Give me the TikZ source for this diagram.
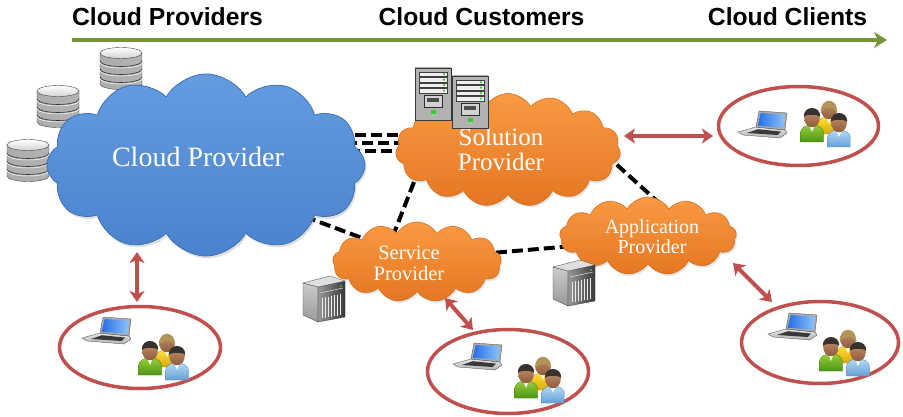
\documentclass[tikz,border=0pt]{standalone}
\usepackage{fontspec}
\setmainfont{Liberation Serif}
\newfontfamily\headfont{Liberation Sans}
\usetikzlibrary{shapes.symbols,shapes.geometric,arrows.meta,shadows}

\definecolor{flowgreen}{RGB}{119,147,60}
\definecolor{provbluetop}{RGB}{100,156,224}
\definecolor{provbluebot}{RGB}{74,130,205}
\definecolor{provblueedge}{RGB}{62,112,182}
\definecolor{custorangetop}{RGB}{250,154,66}
\definecolor{custorangebot}{RGB}{228,118,34}
\definecolor{custorangeedge}{RGB}{214,112,34}
\definecolor{linkred}{RGB}{192,80,77}
\definecolor{skin}{RGB}{200,146,104}
\definecolor{skindark}{RGB}{140,92,62}
\definecolor{hairdark}{RGB}{55,50,45}
\definecolor{hairblond}{RGB}{178,148,88}
\definecolor{shirtgreen}{RGB}{150,205,60}
\definecolor{shirtgreendark}{RGB}{78,150,20}
\definecolor{shirtyellow}{RGB}{255,225,60}
\definecolor{shirtyellowdark}{RGB}{215,168,10}
\definecolor{shirtblue}{RGB}{180,218,245}
\definecolor{shirtbluedark}{RGB}{100,160,215}
\definecolor{screenblue}{RGB}{40,110,230}
\definecolor{screenlight}{RGB}{140,196,250}
\definecolor{ledgreen}{RGB}{60,200,60}

\tikzset{
  headtext/.style={font=\headfont\bfseries\fontsize{24.7}{28}\selectfont, text=black, inner sep=0pt, anchor=base},
  cloudtext/.style={text=white, inner sep=0pt, align=center},
  providercloud/.style={cloud, cloud puffs=12, cloud puff arc=120, cloud ignores aspect,
    inner sep=0pt, top color=provbluetop, bottom color=provbluebot,
    draw=provblueedge, line width=0.8pt,
    drop shadow={shadow xshift=1.5pt, shadow yshift=-2.5pt, opacity=0.25}},
  customercloud/.style={cloud, cloud puffs=#1, cloud puff arc=120, cloud ignores aspect,
    inner sep=0pt, top color=custorangetop, bottom color=custorangebot,
    draw=custorangeedge, line width=0.6pt,
    drop shadow={shadow xshift=1.5pt, shadow yshift=-2pt, opacity=0.2}},
  peerlink/.style={draw=black, line width=4pt, dash pattern=on 11pt off 5pt},
  clientlink/.style={draw=linkred, line width=4pt,
    {Stealth[length=11pt,width=15pt,inset=3pt]}-{Stealth[length=11pt,width=15pt,inset=3pt]}},
  clientring/.style={ellipse, draw=linkred, line width=3.5pt, fill=white, inner sep=0pt},
  % a person: shirt top colour, shirt bottom colour, hair colour, hair depth
  pics/person/.style n args={4}{code={
    \path[top color=#1, bottom color=#2, draw=#2!80!black, line width=0.3pt]
      (-11.5,24) -- (-11.5,16) .. controls (-11.5,9) and (-6,7) .. (0,7)
      .. controls (6,7) and (11.5,9) .. (11.5,16) -- (11.5,24) -- cycle;
    \fill[white] (-2.6,7.3) -- (0,14) -- (2.6,7.3) -- cycle;
    \path[top color=skin, bottom color=skindark] (0,0) ellipse [x radius=7.8, y radius=9.3];
    \fill[#3] (-8.2,#4) .. controls (-8.9,-13) and (8.9,-13) .. (8.2,#4)
      .. controls (6,-4) and (-6,-4) .. cycle;
  }},
  pics/crowd/.style={code={
    \pic at (3,-10) {person={shirtyellow}{shirtyellowdark}{hairblond}{4}};
    \pic at (-14,-2) {person={shirtgreen}{shirtgreendark}{hairdark}{-1}};
    \pic at (13,3) {person={shirtblue}{shirtbluedark}{hairdark}{-1}};
  }},
  pics/laptop/.style={code={
    \path[top color=gray!20, bottom color=gray!60, draw=gray!55!black, line width=0.3pt]
      (-6,3) -- (23,6) -- (25,9) -- (18,14) -- (-19,11) -- (-24,8) -- cycle;
    \fill[gray!45!black] (-4,5.2) -- (19,7.6) -- (15.5,11) -- (-15,9) -- cycle;
    \path[fill=gray!65, draw=gray!50!black, line width=0.3pt]
      (-3,-13) -- (25,-11) -- (23,6) -- (-6,3) -- cycle;
    \path[left color=screenblue, right color=screenlight]
      (-1.3,-11) -- (23,-9.3) -- (21.3,4) -- (-4.3,1.7) -- cycle;
  }},
  pics/database/.style={code={
    \path[left color=gray!65, middle color=gray!5, right color=gray!60,
          draw=gray!55!black, line width=0.4pt]
      (-21,-15) -- (-21,16) arc[start angle=180, end angle=0, x radius=21, y radius=5.5]
      -- (21,-15) -- cycle;
    \foreach \yy in {-7,1,9} {
      \draw[gray!40!black, line width=0.6pt]
        (-21,\yy) arc[start angle=180, end angle=0, x radius=21, y radius=5.5];
      \draw[white, line width=0.5pt]
        (-21,\yy+1.5) arc[start angle=180, end angle=0, x radius=21, y radius=5.5];
    }
    \path[top color=white, bottom color=gray!35, draw=gray!55!black, line width=0.4pt]
      (0,-15) ellipse [x radius=21, y radius=5.5];
  }},
  pics/rackserver/.style={code={
    \path[left color=gray!60, middle color=gray!8, right color=gray!60,
          draw=gray!45!black, line width=0.6pt] (-18,-26) rectangle (18,26);
    \foreach \yy in {-22,-16.5,-11,-5.5} {
      \path[fill=gray!12, draw=gray!50!black, line width=0.3pt] (-14,\yy) rectangle (14,\yy+4.2);
      \fill[ledgreen] (11,\yy+2.1) circle (1.2);
    }
    \path[fill=gray!35, draw=gray!35!black, line width=0.6pt] (-9,1) rectangle (9,13);
    \fill[gray!60!black] (-6,4.5) rectangle (6,8);
    \fill[ledgreen] (-2.5,16) rectangle (2.5,20);
    \fill[ledgreen!60!white] (-1.5,20.5) rectangle (1.5,22.5);
  }},
  pics/towerserver/.style={code={
    \path[top color=gray!40, bottom color=gray!80, draw=gray!50!black, line width=0.3pt]
      (-21,-14) -- (-6,-10) -- (-6,25) -- (-21,18) -- cycle;
    \path[left color=gray!80, right color=gray!45!black, draw=gray!40!black, line width=0.3pt]
      (-6,-10) -- (21,-16) -- (21,20) -- (-6,25) -- cycle;
    \path[fill=gray!25, draw=gray!50!black, line width=0.3pt]
      (-21,-14) -- (6,-21) -- (21,-16) -- (-6,-10) -- cycle;
    \foreach \xx in {-2,1,...,18} {
      \draw[gray!15, line width=0.6pt] (\xx,{2-(\xx+6)*0.22}) -- (\xx,{22-(\xx+6)*0.18});
    }
    \draw[gray!20, line width=0.5pt] (-4,{-4}) -- (19,{-9});
    \fill[ledgreen] (17,-11) circle (1.2);
  }}
}

\begin{document}
\begin{tikzpicture}[x=1pt,y=-1pt]
\useasboundingbox (0,0) rectangle (903,417);

% ---- stage headings and flow arrow
\node[headtext] (hprov) at (167.5,26) {Cloud Providers};
\node[headtext] (hcust) at (481.5,26) {Cloud Customers};
\node[headtext] (hclient) at (787.5,26) {Cloud Clients};
\coordinate (flowstart) at (72,40);
\coordinate (flowend) at (887,40);
\draw[flowgreen, line width=4pt, -{Stealth[length=13pt,width=16pt,inset=4pt]}] (flowstart) -- (flowend);

% ---- storage next to the provider cloud
\pic (db1) at (121,68) {database};
\pic (db2) at (58,106) {database};
\pic (db3) at (28,160) {database};

% ---- dashed peer links (drawn before the clouds so the clouds hide their ends)
\coordinate (cpA) at (330,135);  \coordinate (solA) at (425,135);
\coordinate (cpB) at (330,143);  \coordinate (solB) at (425,143);
\coordinate (cpC) at (330,151);  \coordinate (solC) at (425,151);
\draw[peerlink, dash phase=7pt] (cpA) -- (solA);
\draw[peerlink, dash phase=0pt] (cpB) -- (solB);
\draw[peerlink, dash phase=13pt] (cpC) -- (solC);

\coordinate (cpD) at (290,211);   \coordinate (svcD) at (378,244);
\coordinate (solE) at (414,182);  \coordinate (svcE) at (391,241);
\coordinate (svcF) at (480,254);  \coordinate (appF) at (585,245);
\coordinate (solG) at (605,154);  \coordinate (appG) at (668,211);
\draw[peerlink] (cpD) -- (svcD);
\draw[peerlink] (solE) -- (svcE);
\draw[peerlink] (svcF) -- (appF);
\draw[peerlink] (solG) -- (appG);

% ---- clouds
\node[providercloud, minimum width=318, minimum height=182] (cp) at (206,165) {};
\node[customercloud=15, minimum width=225, minimum height=113] (sol) at (508,150) {};
\node[customercloud=13, minimum width=169, minimum height=80] (svc) at (417,262) {};
\node[customercloud=13, minimum width=177, minimum height=78] (app) at (648,236) {};

\node[cloudtext, font=\fontsize{28}{30}\selectfont, anchor=base] (cplabel) at (198,167) {Cloud Provider};
\node[cloudtext, font=\fontsize{25}{25}\selectfont] (sollabel) at (501,149.7) {Solution\\Provider};
\node[cloudtext, font=\fontsize{20.5}{21}\selectfont] (svclabel) at (409,263.7) {Service\\Provider};
\node[cloudtext, font=\fontsize{20}{19.5}\selectfont] (applabel) at (652,236.5) {Application\\Provider};

% ---- servers
\pic (rack1) at (433,94) {rackserver};
\pic (rack2) at (470,102) {rackserver};
\pic (tower1) at (324,297) {towerserver};
\pic (tower2) at (574,281) {towerserver};

% ---- client groups
\node[clientring, minimum width=160, minimum height=79] (e1) at (798.5,126) {};
\node[clientring, minimum width=161, minimum height=82] (e2) at (140,347.5) {};
\node[clientring, minimum width=161, minimum height=84] (e3) at (508,371.5) {};
\node[clientring, minimum width=157, minimum height=82] (e4) at (820,342.5) {};

\pic (lap1) at (762,124) {laptop};
\pic (lap2) at (106,330) {laptop};
\pic (lap3) at (477,356) {laptop};
\pic (lap4) at (792,326) {laptop};
\pic (crowd1) at (826,120) {crowd};
\pic (crowd2) at (164,353) {crowd};
\pic (crowd3) at (540,376) {crowd};
\pic (crowd4) at (845,349) {crowd};

% ---- client access links
\coordinate (solH) at (624,136);  \coordinate (e1H) at (713,136);
\coordinate (cpI) at (137,252);   \coordinate (e2I) at (137,302);
\coordinate (svcJ) at (445,298);  \coordinate (e3J) at (473,330);
\coordinate (appK) at (733,263);  \coordinate (e4K) at (772,302);
\draw[clientlink] (solH) -- (e1H);
\draw[clientlink] (cpI) -- (e2I);
\draw[clientlink] (svcJ) -- (e3J);
\draw[clientlink] (appK) -- (e4K);
\end{tikzpicture}
\end{document}
